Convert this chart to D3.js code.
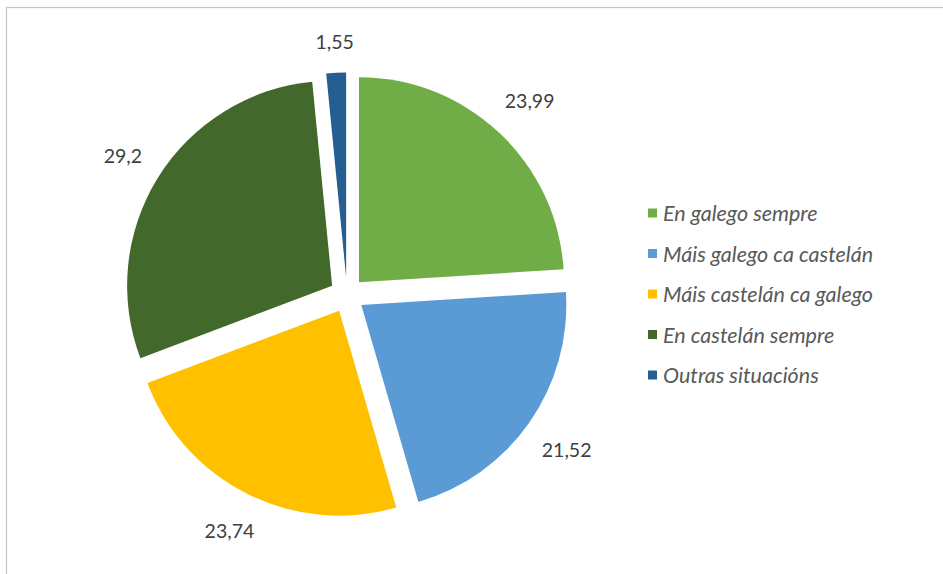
<!DOCTYPE html>
<html>
<head>
<meta charset="utf-8">
<script src="https://cdn.jsdelivr.net/npm/d3@7"></script>
<style>
  html, body { margin: 0; padding: 0; background: #fff; }
  svg { display: block; }
</style>
</head>
<body>
<svg id="chart" width="943" height="574"></svg>
<script>
// Language use shares (%)
const categories = [
  "En galego sempre",
  "Máis galego ca castelán",
  "Máis castelán ca galego",
  "En castelán sempre",
  "Outras situacións"
];
const values = [23.99, 21.52, 23.74, 29.2, 1.55];
const valueLabels = ["23,99", "21,52", "23,74", "29,2", "1,55"];
const colors = ["#70ad47", "#5b9bd5", "#ffc000", "#43682b", "#255e91"];

const svg = d3.select("#chart");
const W = 943, H = 574;

// chart area frame (only top/left edges fall inside the view)
svg.append("rect")
  .attr("x", 6.5).attr("y", 7.5)
  .attr("width", W + 20).attr("height", H + 20)
  .attr("fill", "#fff")
  .attr("stroke", "#c4c4c4")
  .attr("stroke-width", 1.2);

const cx = 347, cy = 295;
const radius = 205;
const explode = 17.5;

const pie = d3.pie().sort(null).value(d => d.value);
const arc = d3.arc().innerRadius(0).outerRadius(radius);

const data = categories.map((c, i) => ({ name: c, value: values[i], label: valueLabels[i], color: colors[i] }));
const arcs = pie(data);

const g = svg.append("g").attr("transform", `translate(${cx},${cy})`);

const slices = g.selectAll("g.slice").data(arcs).join("g")
  .attr("class", "slice")
  .attr("transform", d => {
    const a = (d.startAngle + d.endAngle) / 2;
    return `translate(${Math.sin(a) * explode},${-Math.cos(a) * explode})`;
  });

slices.append("path")
  .attr("d", arc)
  .attr("fill", d => d.data.color);

// value labels just outside each slice
const labelFont = "Lato, 'Open Sans', sans-serif";
slices.append("text")
  .text(d => d.data.label)
  .attr("font-family", labelFont)
  .attr("font-size", 19.5)
  .attr("fill", "#404040")
  .attr("text-anchor", "middle")
  .attr("dominant-baseline", "central")
  .each(function(d) {
    const a = (d.startAngle + d.endAngle) / 2;
    const s = Math.sin(a), c = Math.cos(a);
    const bb = this.getBBox();
    const pad = 19;
    const rl = radius + pad + Math.abs(s) * bb.width / 2 + Math.abs(c) * bb.height / 2;
    d3.select(this).attr("x", s * rl).attr("y", -c * rl);
  });

// legend
const legend = svg.append("g").attr("transform", "translate(648,213)");
const rowStep = 40.5;
const rows = legend.selectAll("g").data(data).join("g")
  .attr("transform", (d, i) => `translate(0,${i * rowStep})`);
rows.append("rect")
  .attr("x", 0).attr("y", -4.5)
  .attr("width", 9).attr("height", 9)
  .attr("fill", d => d.color);
rows.append("text")
  .attr("x", 15).attr("y", 0)
  .attr("dominant-baseline", "central")
  .attr("font-family", labelFont)
  .attr("font-style", "italic")
  .attr("font-size", 21.5)
  .attr("fill", "#595959")
  .text(d => d.name);
</script>
</body>
</html>
